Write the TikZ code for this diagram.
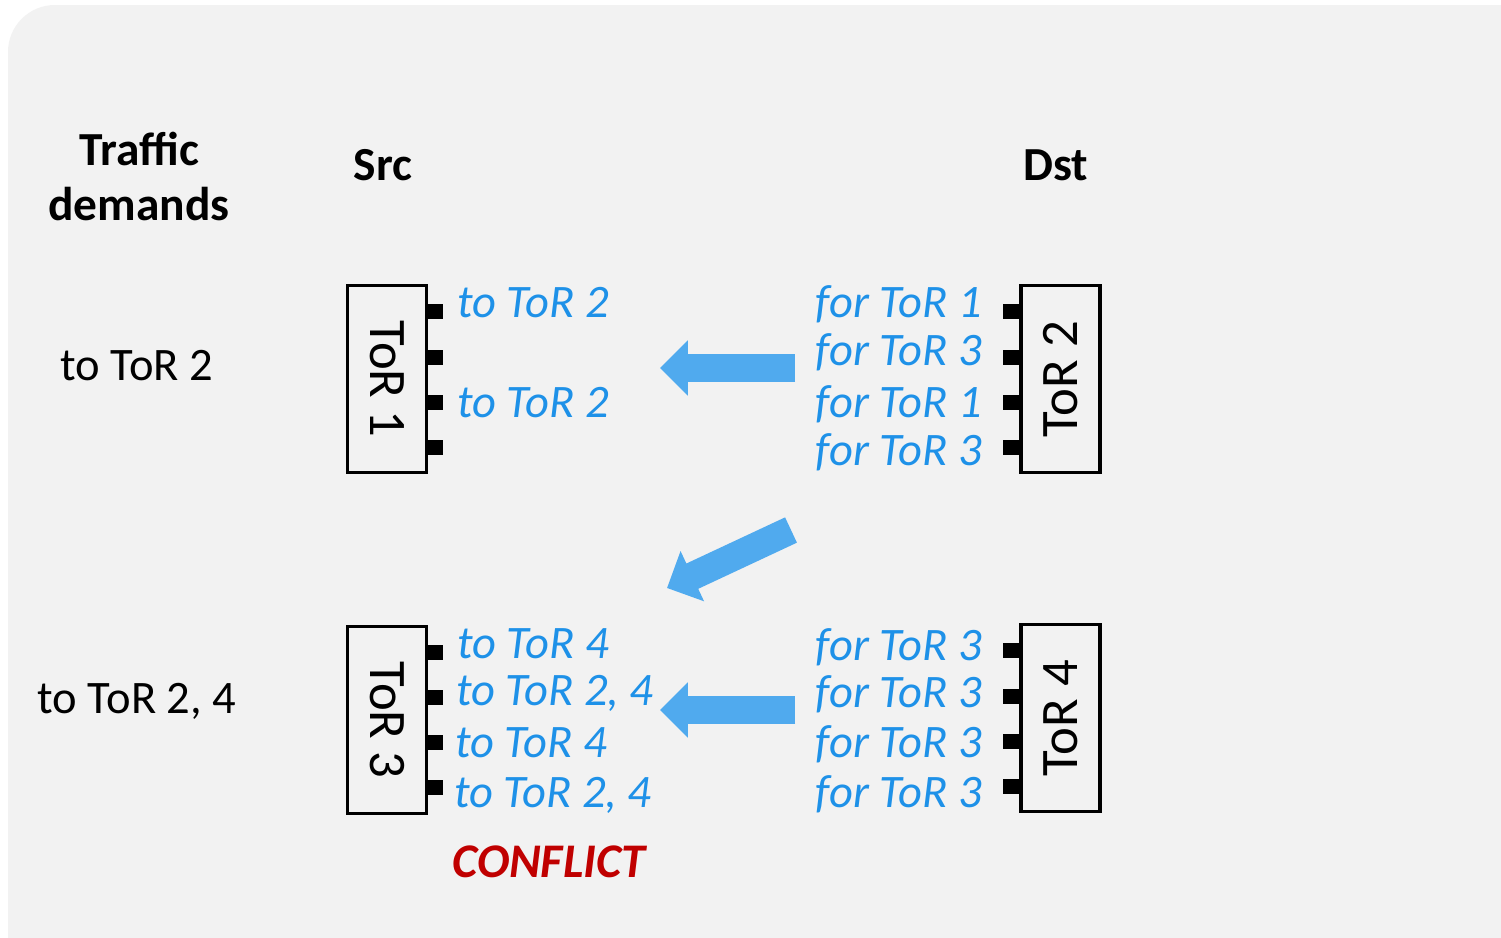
\documentclass[tikz,border=0pt]{standalone}
\usepackage{fontspec}
\setmainfont{Carlito}
\usetikzlibrary{arrows.meta, positioning}
\definecolor{panel}{RGB}{242,242,242}
\definecolor{linkblue}{RGB}{30,145,232}
\definecolor{flow}{RGB}{80,170,238}
\definecolor{conflict}{RGB}{192,0,0}

\begin{document}
\begin{tikzpicture}[
    x=0.02cm, y=-0.02cm,
    tor/.style={rectangle, draw=black, line width=2.2pt, minimum width=1.58cm, minimum height=3.74cm, inner sep=0pt, font=\fontsize{30}{32}\selectfont},
    heading/.style={font=\fontsize{27}{31}\selectfont\bfseries, align=center, anchor=base},
    demand/.style={font=\fontsize{26.5}{30}\selectfont, anchor=base},
    tolbl/.style={font=\fontsize{26.5}{30}\selectfont\itshape, text=linkblue, inner sep=0pt, anchor=base west},
    forlbl/.style={font=\fontsize{26.5}{30}\selectfont\itshape, text=linkblue, inner sep=0pt, anchor=base east},
    flowarr/.style={draw=flow, line width=15.9pt, -{Triangle[length=15.9pt, width=30.6pt]}},
]

% Canvas
\useasboundingbox (0,0) rectangle (1501,937);
\clip (0,0) rectangle (1501,937);
\fill[white] (0,0) rectangle (1501,937);
\fill[panel, rounded corners=0.94cm] (8,5) rectangle (1580,1000);

% Headings
\node[heading] (demands) at (139,220) {Traffic\\demands};
\node[heading] (src) at (383,180) {Src};
\node[heading] (dst) at (1056,180) {Dst};

\node[demand] (dem1) at (137,380) {to ToR 2};
\node[demand] (dem3) at (137,713) {to ToR 2, 4};

% ToRs
\node[tor] (tor1) at (387,379) {\rotatebox{-90}{ToR 1}};
\node[tor] (tor2) at (1060.5,379) {\rotatebox{90}{ToR 2}};
\node[tor] (tor3) at (387,720) {\rotatebox{-90}{ToR 3}};
\node[tor] (tor4) at (1060.5,718) {\rotatebox{90}{ToR 4}};

% Ports
\foreach \y in {311,357,402,447} {
    \fill (427,\y-7.5) rectangle (443,\y+7.5);
    \fill (1003,\y-7.5) rectangle (1019,\y+7.5);
}
\foreach \y in {652,697,742,787} \fill (427,\y-7.5) rectangle (443,\y+7.5);
\foreach \y in {650,696,741,786} \fill (1003,\y-7.5) rectangle (1019,\y+7.5);

% Port labels
\node[tolbl] (s11) at (457,317) {to ToR 2};
\node[tolbl] (s13) at (457,417) {to ToR 2};

\node[forlbl] (d21) at (982,317) {for ToR 1};
\node[forlbl] (d22) at (982,365) {for ToR 3};
\node[forlbl] (d23) at (982,417) {for ToR 1};
\node[forlbl] (d24) at (982,465) {for ToR 3};

\node[tolbl] (s31) at (457,658) {to ToR 4};
\node[tolbl] (s32) at (456,705) {to ToR 2, 4};
\node[tolbl] (s33) at (455,757) {to ToR 4};
\node[tolbl] (s34) at (454,807) {to ToR 2, 4};

\node[forlbl] (d41) at (982,660) {for ToR 3};
\node[forlbl] (d42) at (982,707) {for ToR 3};
\node[forlbl] (d43) at (982,757) {for ToR 3};
\node[forlbl] (d44) at (982,807) {for ToR 3};

\node[font=\fontsize{27.5}{30}\selectfont\bfseries\itshape, text=conflict, inner sep=0pt, anchor=base] (conflict) at (549,877) {CONFLICT};

% Flows
\coordinate (f1a) at (795,368);
\coordinate (f1b) at (660,368);
\coordinate (f2a) at (791,530);
\coordinate (f2b) at (667,588);
\coordinate (f3a) at (795,710);
\coordinate (f3b) at (660,710);
\draw[flowarr] (f1a) -- (f1b);
\draw[flowarr] (f2a) -- (f2b);
\draw[flowarr] (f3a) -- (f3b);

\end{tikzpicture}
\end{document}
